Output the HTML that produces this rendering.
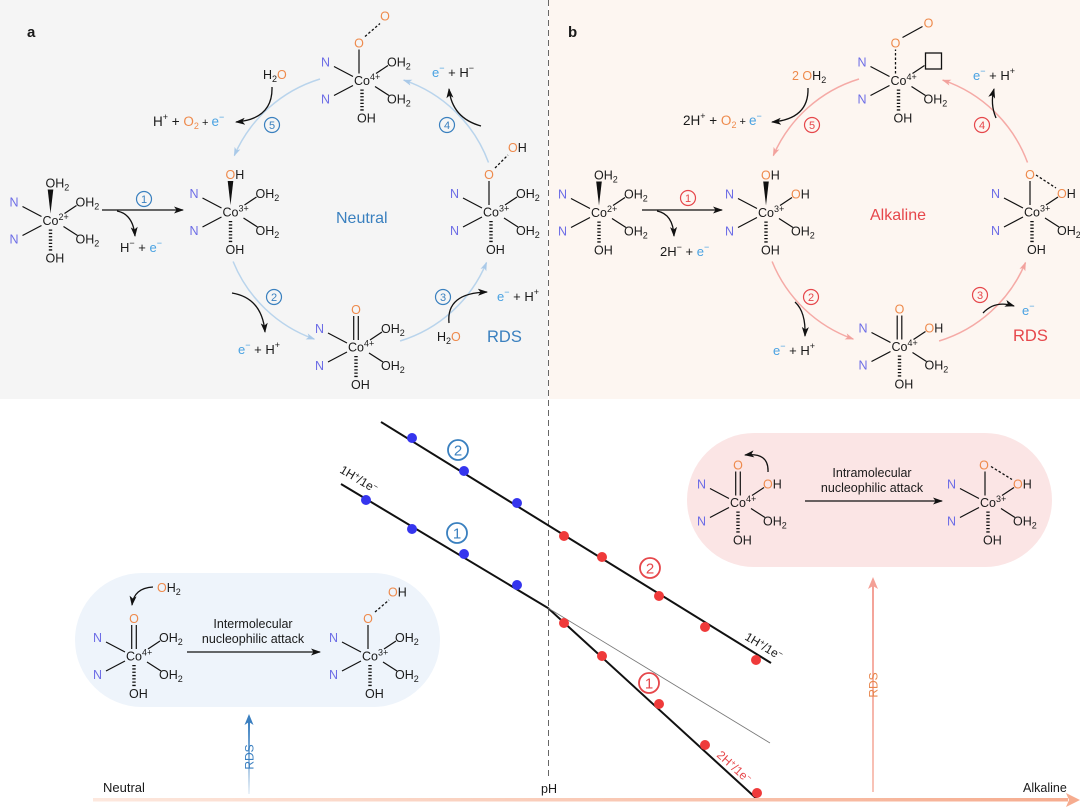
<!DOCTYPE html>
<html><head><meta charset="utf-8">
<style>
html,body{margin:0;padding:0;background:#fff;}
svg{display:block;font-family:"Liberation Sans",Arial,sans-serif;font-size:12.5px;fill:#1a1a1a;}
.n{fill:#6d6de6}.o{fill:#ee8a4c}.e{fill:#49a2e2}
.s{font-size:9px}
.bd{stroke:#111;stroke-width:1.2;fill:none}
.hs{stroke:#111;stroke-width:3.4;stroke-dasharray:1.3 2;fill:none}
.dsh{stroke:#111;stroke-width:1.3;stroke-dasharray:2.5 2;fill:none}
.rx{font-size:13px}
.bl{fill:#3a80bf}.rd{fill:#e6474b}
</style></head><body>
<svg width="1080" height="808" viewBox="0 0 1080 808" xmlns="http://www.w3.org/2000/svg">
<defs>
<g id="sk"><path class="bd" d="M-28,-14 L-9,-4 M-28,15 L-9,5 M14,-7 L26,-15 M13,6 L27,15"/><line class="hs" x1="0" y1="9" x2="0" y2="31"/></g>
<marker id="mk" markerUnits="userSpaceOnUse" markerWidth="10" markerHeight="10" viewBox="0 0 10 10" refX="9" refY="5" orient="auto"><path d="M0,1.5 L10,5 L0,8.5 L2.5,5z" fill="#111"/></marker>
<marker id="mlb" markerUnits="userSpaceOnUse" markerWidth="9" markerHeight="9" viewBox="0 0 10 10" refX="9" refY="5" orient="auto"><path d="M0,1.5 L10,5 L0,8.5 L2.5,5z" fill="#a9c9e8"/></marker>
<marker id="mpk" markerUnits="userSpaceOnUse" markerWidth="9" markerHeight="9" viewBox="0 0 10 10" refX="9" refY="5" orient="auto"><path d="M0,1.5 L10,5 L0,8.5 L2.5,5z" fill="#f2a29d"/></marker>
<linearGradient id="ga" x1="0" y1="0" x2="1" y2="0"><stop offset="0" stop-color="#fde8de"/><stop offset="1" stop-color="#f6ac8f"/></linearGradient>
<linearGradient id="gb" x1="0" y1="0" x2="0" y2="1"><stop offset="0" stop-color="#3a7fc0"/><stop offset="1" stop-color="#3a7fc0" stop-opacity="0.1"/></linearGradient>
<linearGradient id="gp" x1="0" y1="0" x2="0" y2="1"><stop offset="0" stop-color="#f4a096"/><stop offset="1" stop-color="#f8c4b8"/></linearGradient>
</defs>

<!-- backgrounds -->
<rect x="0" y="0" width="548" height="399" fill="#f5f5f5"/>
<rect x="549" y="0" width="531" height="399" fill="#fdf6f1"/>
<line x1="548.5" y1="0" x2="548.5" y2="778" stroke="#666" stroke-width="1" stroke-dasharray="6 4"/>

<text x="27" y="37" font-size="15" font-weight="bold">a</text>
<text x="568" y="37" font-size="15" font-weight="bold">b</text>

<!-- ===== Panel a ===== -->
<path d="M320,79 A137,137 0 0 0 234.3,155.6" stroke="#b9d4ec" stroke-width="1.5" fill="none" marker-end="url(#mlb)"/>
<path d="M233.1,261.5 A137,137 0 0 0 314.3,339.1" stroke="#b9d4ec" stroke-width="1.5" fill="none" marker-end="url(#mlb)"/>
<path d="M400.1,341 A137,137 0 0 0 486.5,262.6" stroke="#b9d4ec" stroke-width="1.5" fill="none" marker-end="url(#mlb)"/>
<path d="M488.5,162.5 A137,137 0 0 0 403.7,80.1" stroke="#b9d4ec" stroke-width="1.5" fill="none" marker-end="url(#mlb)"/>

<!-- A1 Co2+ -->
<g transform="translate(50.5,220.5)">
<use href="#sk"/>
<polygon points="0,-7 -2.8,-31 2.8,-31" fill="#111"/>
<text x="-8" y="4.5">Co<tspan class="s" dy="-5">2+</tspan></text>
<text class="n" x="-41" y="-14">N</text><text class="n" x="-41" y="23">N</text>
<text x="25" y="-14">OH<tspan class="s" dy="3">2</tspan></text>
<text x="25" y="23">OH<tspan class="s" dy="3">2</tspan></text>
<text x="-5" y="42">OH</text>
<text x="-5" y="-33">OH<tspan class="s" dy="3">2</tspan></text>
</g>
<!-- A2 Co3+ -->
<g transform="translate(230.5,212)">
<use href="#sk"/>
<polygon points="0,-7 -2.8,-31 2.8,-31" fill="#111"/>
<text x="-8" y="4.5">Co<tspan class="s" dy="-5">3+</tspan></text>
<text class="n" x="-41" y="-14">N</text><text class="n" x="-41" y="23">N</text>
<text x="25" y="-14">OH<tspan class="s" dy="3">2</tspan></text>
<text x="25" y="23">OH<tspan class="s" dy="3">2</tspan></text>
<text x="-5" y="42">OH</text>
<text x="-5" y="-33"><tspan class="o">O</tspan>H</text>
</g>
<!-- A3 Co4+ top -->
<g transform="translate(362,80.5)">
<use href="#sk"/>
<line class="bd" x1="-3" y1="-7" x2="-3" y2="-31"/>
<text x="-8" y="4.5">Co<tspan class="s" dy="-5">4+</tspan></text>
<text class="n" x="-41" y="-14">N</text><text class="n" x="-41" y="23">N</text>
<text x="25" y="-14">OH<tspan class="s" dy="3">2</tspan></text>
<text x="25" y="23">OH<tspan class="s" dy="3">2</tspan></text>
<text x="-5" y="42">OH</text>
<text class="o" x="-3" y="-33" text-anchor="middle">O</text>
<line class="dsh" x1="3" y1="-44" x2="18" y2="-57"/>
<text class="o" x="23" y="-60" text-anchor="middle">O</text>
</g>
<!-- A4 Co3+ right -->
<g transform="translate(491,212)">
<use href="#sk"/>
<line class="bd" x1="-2" y1="-7" x2="-2" y2="-31"/>
<text x="-8" y="4.5">Co<tspan class="s" dy="-5">3+</tspan></text>
<text class="n" x="-41" y="-14">N</text><text class="n" x="-41" y="23">N</text>
<text x="25" y="-14">OH<tspan class="s" dy="3">2</tspan></text>
<text x="25" y="23">OH<tspan class="s" dy="3">2</tspan></text>
<text x="-5" y="42">OH</text>
<text class="o" x="-2" y="-33" text-anchor="middle">O</text>
<line class="dsh" x1="4" y1="-44" x2="17" y2="-57"/>
<text x="17" y="-60"><tspan class="o">O</tspan>H</text>
</g>
<!-- A5 Co4+ bottom -->
<g transform="translate(356,347)">
<use href="#sk"/>
<path class="bd" d="M-2.3,-7 L-2.3,-31 M2.3,-7 L2.3,-31"/>
<text x="-8" y="4.5">Co<tspan class="s" dy="-5">4+</tspan></text>
<text class="n" x="-41" y="-14">N</text><text class="n" x="-41" y="23">N</text>
<text x="25" y="-14">OH<tspan class="s" dy="3">2</tspan></text>
<text x="25" y="23">OH<tspan class="s" dy="3">2</tspan></text>
<text x="-5" y="42">OH</text>
<text class="o" x="0" y="-33" text-anchor="middle">O</text>
</g>

<!-- panel a arrows & labels -->
<path d="M102,210 L183,210" stroke="#111" stroke-width="1.3" marker-end="url(#mk)"/>
<path d="M117,211 Q133,214 135,236" stroke="#111" stroke-width="1.3" fill="none" marker-end="url(#mk)"/>
<circle cx="144" cy="199" r="7.5" fill="none" stroke="#3a80bf" stroke-width="1.2"/><text class="bl" x="144" y="203" font-size="11" text-anchor="middle">1</text>
<text class="rx" x="120" y="252">H<tspan class="s" dy="-6">−</tspan><tspan dy="6"> + </tspan><tspan class="e">e</tspan><tspan class="e s" dy="-6">−</tspan></text>

<text x="263" y="79">H<tspan class="s" dy="3">2</tspan><tspan class="o" dy="-3">O</tspan></text>
<path d="M272,87 Q273,119 236,122" stroke="#111" stroke-width="1.3" fill="none" marker-end="url(#mk)"/>
<text x="153" y="126" font-size="13.5">H<tspan class="s" dy="-6">+</tspan><tspan dy="6"> + </tspan><tspan class="o">O</tspan><tspan class="o s" dy="3">2</tspan><tspan dy="-3" font-size="11"> + </tspan><tspan class="e">e</tspan><tspan class="e s" dy="-6">−</tspan></text>
<circle cx="272" cy="125" r="7.5" fill="none" stroke="#3a80bf" stroke-width="1.2"/><text class="bl" x="272" y="129" font-size="11" text-anchor="middle">5</text>

<circle cx="447" cy="125" r="7.5" fill="none" stroke="#3a80bf" stroke-width="1.2"/><text class="bl" x="447" y="129" font-size="11" text-anchor="middle">4</text>
<path d="M481,126 Q452,118 449,89" stroke="#111" stroke-width="1.3" fill="none" marker-end="url(#mk)"/>
<text class="rx" x="432" y="77"><tspan class="e">e</tspan><tspan class="e s" dy="-6">−</tspan><tspan dy="6">  +  H</tspan><tspan class="s" dy="-6">−</tspan></text>

<circle cx="274" cy="297" r="7.5" fill="none" stroke="#3a80bf" stroke-width="1.2"/><text class="bl" x="274" y="301" font-size="11" text-anchor="middle">2</text>
<path d="M232,293 Q262,298 265,332" stroke="#111" stroke-width="1.3" fill="none" marker-end="url(#mk)"/>
<text class="rx" x="238" y="354"><tspan class="e">e</tspan><tspan class="e s" dy="-6">−</tspan><tspan dy="6"> + H</tspan><tspan class="s" dy="-6">+</tspan></text>

<circle cx="443" cy="297" r="7.5" fill="none" stroke="#3a80bf" stroke-width="1.2"/><text class="bl" x="443" y="301" font-size="11" text-anchor="middle">3</text>
<path d="M449,323 Q446,293 487,292" stroke="#111" stroke-width="1.3" fill="none" marker-end="url(#mk)"/>
<text x="437" y="341">H<tspan class="s" dy="3">2</tspan><tspan class="o" dy="-3">O</tspan></text>
<text class="rx" x="497" y="301"><tspan class="e">e</tspan><tspan class="e s" dy="-6">−</tspan><tspan dy="6"> + H</tspan><tspan class="s" dy="-6">+</tspan></text>
<text class="bl" x="487" y="342" font-size="16.5">RDS</text>
<text class="bl" x="336" y="223" font-size="16">Neutral</text>

<!-- ===== Panel b ===== -->
<path d="M859,79 A137,137 0 0 0 773.3,155.6" stroke="#f5aaa6" stroke-width="1.5" fill="none" marker-end="url(#mpk)"/>
<path d="M772.1,261.5 A137,137 0 0 0 853.3,339.1" stroke="#f5aaa6" stroke-width="1.5" fill="none" marker-end="url(#mpk)"/>
<path d="M939.1,341 A137,137 0 0 0 1025.5,262.6" stroke="#f5aaa6" stroke-width="1.5" fill="none" marker-end="url(#mpk)"/>
<path d="M1027.5,162.5 A137,137 0 0 0 942.7,80.1" stroke="#f5aaa6" stroke-width="1.5" fill="none" marker-end="url(#mpk)"/>

<!-- B1 Co2+ -->
<g transform="translate(599,212.5)">
<use href="#sk"/>
<polygon points="0,-7 -2.8,-31 2.8,-31" fill="#111"/>
<text x="-8" y="4.5">Co<tspan class="s" dy="-5">2+</tspan></text>
<text class="n" x="-41" y="-14">N</text><text class="n" x="-41" y="23">N</text>
<text x="25" y="-14">OH<tspan class="s" dy="3">2</tspan></text>
<text x="25" y="23">OH<tspan class="s" dy="3">2</tspan></text>
<text x="-5" y="42">OH</text>
<text x="-5" y="-33">OH<tspan class="s" dy="3">2</tspan></text>
</g>
<!-- B2 Co3+ -->
<g transform="translate(766,212.5)">
<use href="#sk"/>
<polygon points="0,-7 -2.8,-31 2.8,-31" fill="#111"/>
<text x="-8" y="4.5">Co<tspan class="s" dy="-5">3+</tspan></text>
<text class="n" x="-41" y="-14">N</text><text class="n" x="-41" y="23">N</text>
<text x="25" y="-14"><tspan class="o">O</tspan>H</text>
<text x="25" y="23">OH<tspan class="s" dy="3">2</tspan></text>
<text x="-5" y="42">OH</text>
<text x="-5" y="-33"><tspan class="o">O</tspan>H</text>
</g>
<!-- B3 Co4+ top -->
<g transform="translate(898.5,80.5)">
<use href="#sk"/>
<line class="dsh" x1="-3" y1="-7" x2="-3" y2="-31"/>
<text x="-8" y="4.5">Co<tspan class="s" dy="-5">4+</tspan></text>
<text class="n" x="-41" y="-14">N</text><text class="n" x="-41" y="23">N</text>
<rect x="27" y="-27.5" width="16" height="16" fill="none" stroke="#111" stroke-width="1.3"/>
<text x="25" y="23">OH<tspan class="s" dy="3">2</tspan></text>
<text x="-5" y="42">OH</text>
<text class="o" x="-3" y="-33" text-anchor="middle">O</text>
<line class="bd" x1="4" y1="-43" x2="24" y2="-54"/>
<text class="o" x="30" y="-53" text-anchor="middle">O</text>
</g>
<!-- B4 Co3+ right -->
<g transform="translate(1032,212)">
<use href="#sk"/>
<line class="bd" x1="-2" y1="-7" x2="-2" y2="-31"/>
<text x="-8" y="4.5">Co<tspan class="s" dy="-5">3+</tspan></text>
<text class="n" x="-41" y="-14">N</text><text class="n" x="-41" y="23">N</text>
<text x="25" y="-14"><tspan class="o">O</tspan>H</text>
<text x="25" y="23">OH<tspan class="s" dy="3">2</tspan></text>
<text x="-5" y="42">OH</text>
<text class="o" x="-2" y="-33" text-anchor="middle">O</text>
<line class="dsh" x1="4" y1="-37" x2="24" y2="-24"/>
</g>
<!-- B5 Co4+ bottom -->
<g transform="translate(899.5,346.5)">
<use href="#sk"/>
<path class="bd" d="M-2.3,-7 L-2.3,-31 M2.3,-7 L2.3,-31"/>
<text x="-8" y="4.5">Co<tspan class="s" dy="-5">4+</tspan></text>
<text class="n" x="-41" y="-14">N</text><text class="n" x="-41" y="23">N</text>
<text x="25" y="-14"><tspan class="o">O</tspan>H</text>
<text x="25" y="23">OH<tspan class="s" dy="3">2</tspan></text>
<text x="-5" y="42">OH</text>
<text class="o" x="0" y="-33" text-anchor="middle">O</text>
</g>

<!-- panel b arrows & labels -->
<path d="M642,210 L722,210" stroke="#111" stroke-width="1.3" marker-end="url(#mk)"/>
<path d="M657,211 Q673,214 674,236" stroke="#111" stroke-width="1.3" fill="none" marker-end="url(#mk)"/>
<circle cx="688" cy="198" r="7.5" fill="none" stroke="#e6474b" stroke-width="1.2"/><text class="rd" x="688" y="202" font-size="11" text-anchor="middle">1</text>
<text class="rx" x="660" y="256">2H<tspan class="s" dy="-6">−</tspan><tspan dy="6"> + </tspan><tspan class="e">e</tspan><tspan class="e s" dy="-6">−</tspan></text>

<text x="792" y="80"><tspan class="o">2 O</tspan>H<tspan class="s" dy="3">2</tspan></text>
<path d="M808,88 Q809,119 772,122" stroke="#111" stroke-width="1.3" fill="none" marker-end="url(#mk)"/>
<text x="683" y="125" font-size="13.5">2H<tspan class="s" dy="-6">+</tspan><tspan dy="6"> + </tspan><tspan class="o">O</tspan><tspan class="o s" dy="3">2</tspan><tspan dy="-3" font-size="11"> + </tspan><tspan class="e">e</tspan><tspan class="e s" dy="-6">−</tspan></text>
<circle cx="812" cy="125" r="7.5" fill="none" stroke="#e6474b" stroke-width="1.2"/><text class="rd" x="812" y="129" font-size="11" text-anchor="middle">5</text>

<circle cx="982" cy="125" r="7.5" fill="none" stroke="#e6474b" stroke-width="1.2"/><text class="rd" x="982" y="129" font-size="11" text-anchor="middle">4</text>
<path d="M996,118 Q990,104 994,89" stroke="#111" stroke-width="1.3" fill="none" marker-end="url(#mk)"/>
<text class="rx" x="973" y="80"><tspan class="e">e</tspan><tspan class="e s" dy="-6">−</tspan><tspan dy="6"> + H</tspan><tspan class="s" dy="-6">+</tspan></text>

<circle cx="811" cy="297" r="7.5" fill="none" stroke="#e6474b" stroke-width="1.2"/><text class="rd" x="811" y="301" font-size="11" text-anchor="middle">2</text>
<path d="M795,302 Q806,312 805,336" stroke="#111" stroke-width="1.3" fill="none" marker-end="url(#mk)"/>
<text class="rx" x="773" y="355"><tspan class="e">e</tspan><tspan class="e s" dy="-6">−</tspan><tspan dy="6"> + H</tspan><tspan class="s" dy="-6">+</tspan></text>

<circle cx="980" cy="295" r="7.5" fill="none" stroke="#e6474b" stroke-width="1.2"/><text class="rd" x="980" y="299" font-size="11" text-anchor="middle">3</text>
<path d="M983,313 Q995,300 1014,306" stroke="#111" stroke-width="1.3" fill="none" marker-end="url(#mk)"/>
<text class="rx" x="1022" y="315"><tspan class="e">e</tspan><tspan class="e s" dy="-6">−</tspan></text>
<text class="rd" x="1013" y="341" font-size="16.5">RDS</text>
<text class="rd" x="870" y="220" font-size="16">Alkaline</text>

<!-- ===== Bottom ===== -->
<rect x="75" y="573" width="365" height="134" rx="67" fill="#eef4fb"/>
<rect x="687" y="433" width="365" height="134" rx="67" fill="#fbe5e5"/>

<!-- plot -->
<path d="M381,422 L771,663" stroke="#111" stroke-width="2" fill="none"/>
<path d="M341,484 L548,608 L758,800" stroke="#111" stroke-width="2" fill="none"/>
<path d="M548,608 L770,743" stroke="#777" stroke-width="0.8" fill="none"/>
<g fill="#3535ee">
<circle cx="412" cy="438" r="5"/><circle cx="464" cy="471" r="5"/><circle cx="517" cy="503" r="5"/>
<circle cx="366" cy="500" r="5"/><circle cx="412" cy="529" r="5"/><circle cx="464" cy="554" r="5"/><circle cx="517" cy="585" r="5"/>
</g>
<g fill="#ef3a3a">
<circle cx="564" cy="536" r="5"/><circle cx="602" cy="557" r="5"/><circle cx="659" cy="596" r="5"/><circle cx="705" cy="627" r="5"/><circle cx="756" cy="660" r="5"/>
<circle cx="564" cy="623" r="5"/><circle cx="602" cy="656" r="5"/><circle cx="659" cy="704" r="5"/><circle cx="705" cy="745" r="5"/><circle cx="757" cy="793" r="5"/>
</g>
<circle cx="458" cy="450" r="10" fill="none" stroke="#3a80bf" stroke-width="1.8"/><text class="bl" x="458" y="455.5" font-size="15" text-anchor="middle">2</text>
<circle cx="457" cy="533" r="10" fill="none" stroke="#3a80bf" stroke-width="1.8"/><text class="bl" x="457" y="538.5" font-size="15" text-anchor="middle">1</text>
<circle cx="650" cy="568" r="10" fill="none" stroke="#e6474b" stroke-width="1.8"/><text class="rd" x="650" y="573.5" font-size="15" text-anchor="middle">2</text>
<circle cx="649" cy="683" r="10" fill="none" stroke="#e6474b" stroke-width="1.8"/><text class="rd" x="649" y="688.5" font-size="15" text-anchor="middle">1</text>

<text transform="translate(339,472) rotate(31)" font-size="12">1H<tspan font-size="8" dy="-4">+</tspan><tspan dy="4">/1e</tspan><tspan font-size="8" dy="-4">−</tspan></text>
<text transform="translate(744,639) rotate(31)" font-size="12">1H<tspan font-size="8" dy="-4">+</tspan><tspan dy="4">/1e</tspan><tspan font-size="8" dy="-4">−</tspan></text>
<text class="rd" transform="translate(716,756) rotate(42)" font-size="12">2H<tspan font-size="8" dy="-4">+</tspan><tspan dy="4">/1e</tspan><tspan font-size="8" dy="-4">−</tspan></text>

<!-- axis -->
<rect x="93" y="798" width="975" height="3.5" fill="url(#ga)"/>
<polygon points="1066,793 1080,800 1066,807 1069,800" fill="#f6ac8f"/>
<text x="103" y="792" font-size="13">Neutral</text>
<text x="1023" y="792" font-size="12.5">Alkaline</text>
<text x="549" y="793" font-size="12.5" text-anchor="middle">pH</text>

<!-- RDS arrows -->
<rect x="248" y="722" width="2" height="72" fill="url(#gb)"/>
<polygon points="249,714 244.5,725 249,722 253.5,725" fill="#3a7fc0"/>
<text transform="translate(253.3,757) rotate(-90)" font-size="12" text-anchor="middle" style="fill:#3a7fc0">RDS</text>
<rect x="872" y="585" width="2" height="207" fill="url(#gp)"/>
<polygon points="873,577 868,589 873,586 878,589" fill="#f4a096"/>
<text transform="translate(877.3,685) rotate(-90)" font-size="12" text-anchor="middle" style="fill:#e8874e">RDS</text>

<!-- C1 Co4+ blue box -->
<g transform="translate(134,656)">
<use href="#sk"/>
<path class="bd" d="M-2.3,-7 L-2.3,-31 M2.3,-7 L2.3,-31"/>
<text x="-8" y="4.5">Co<tspan class="s" dy="-5">4+</tspan></text>
<text class="n" x="-41" y="-14">N</text><text class="n" x="-41" y="23">N</text>
<text x="25" y="-14">OH<tspan class="s" dy="3">2</tspan></text>
<text x="25" y="23">OH<tspan class="s" dy="3">2</tspan></text>
<text x="-5" y="42">OH</text>
<text class="o" x="0" y="-33" text-anchor="middle">O</text>
</g>
<text x="157" y="592"><tspan class="o">O</tspan>H<tspan class="s" dy="3">2</tspan></text>
<path d="M153,587 Q134,588 132,605" stroke="#111" stroke-width="1.3" fill="none" marker-end="url(#mk)"/>
<path d="M187,652 L320,652" stroke="#111" stroke-width="1.3" marker-end="url(#mk)"/>
<text x="253" y="628" text-anchor="middle">Intermolecular</text>
<text x="253" y="643" text-anchor="middle">nucleophilic attack</text>
<!-- C2 Co3+ -->
<g transform="translate(370,656)">
<use href="#sk"/>
<line class="bd" x1="-2" y1="-7" x2="-2" y2="-31"/>
<text x="-8" y="4.5">Co<tspan class="s" dy="-5">3+</tspan></text>
<text class="n" x="-41" y="-14">N</text><text class="n" x="-41" y="23">N</text>
<text x="25" y="-14">OH<tspan class="s" dy="3">2</tspan></text>
<text x="25" y="23">OH<tspan class="s" dy="3">2</tspan></text>
<text x="-5" y="42">OH</text>
<text class="o" x="-2" y="-33" text-anchor="middle">O</text>
<line class="dsh" x1="5" y1="-44" x2="19" y2="-56"/>
<text x="18" y="-59.5"><tspan class="o">O</tspan>H</text>
</g>

<!-- D1 Co4+ pink box -->
<g transform="translate(738,502.5)">
<use href="#sk"/>
<path class="bd" d="M-2.3,-7 L-2.3,-31 M2.3,-7 L2.3,-31"/>
<text x="-8" y="4.5">Co<tspan class="s" dy="-5">4+</tspan></text>
<text class="n" x="-41" y="-14">N</text><text class="n" x="-41" y="23">N</text>
<text x="25" y="-14"><tspan class="o">O</tspan>H</text>
<text x="25" y="23">OH<tspan class="s" dy="3">2</tspan></text>
<text x="-5" y="42">OH</text>
<text class="o" x="0" y="-33" text-anchor="middle">O</text>
</g>
<path d="M768,472 Q769,452 745,455" stroke="#111" stroke-width="1.3" fill="none" marker-end="url(#mk)"/>
<path d="M805,501 L942,501" stroke="#111" stroke-width="1.3" marker-end="url(#mk)"/>
<text x="872" y="477" text-anchor="middle">Intramolecular</text>
<text x="872" y="492" text-anchor="middle">nucleophilic attack</text>
<!-- D2 Co3+ -->
<g transform="translate(988,502.5)">
<use href="#sk"/>
<line class="bd" x1="-3" y1="-7" x2="-3" y2="-31"/>
<text x="-8" y="4.5">Co<tspan class="s" dy="-5">3+</tspan></text>
<text class="n" x="-41" y="-14">N</text><text class="n" x="-41" y="23">N</text>
<text x="25" y="-14"><tspan class="o">O</tspan>H</text>
<text x="25" y="23">OH<tspan class="s" dy="3">2</tspan></text>
<text x="-5" y="42">OH</text>
<text class="o" x="-4" y="-33" text-anchor="middle">O</text>
<line class="dsh" x1="3" y1="-36" x2="24" y2="-23"/>
</g>
</svg>
</body></html>
